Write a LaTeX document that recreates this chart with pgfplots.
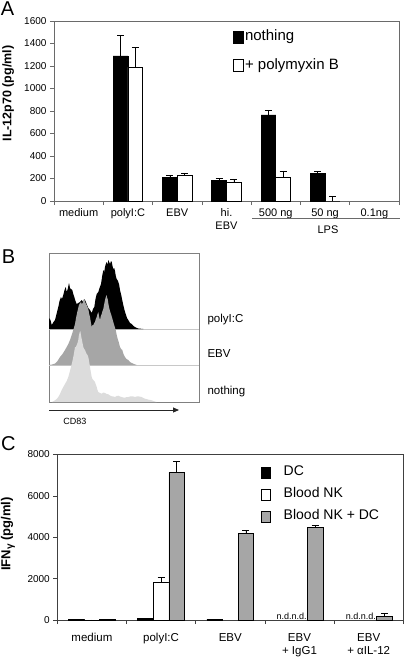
\documentclass[border=0pt]{standalone}
\usepackage{fontspec}
\setmainfont{Liberation Sans}
\setsansfont{Liberation Sans}
\usepackage{pgfplots}
\pgfplotsset{compat=1.18}
\usetikzlibrary{arrows.meta}
\definecolor{axA}{HTML}{6A6A6A}
\definecolor{axC}{HTML}{404040}
\definecolor{ebvgray}{HTML}{A6A6A6}
\definecolor{nothgray}{HTML}{DCDCDC}
\definecolor{sepgray}{HTML}{C8C8C8}
\newcommand{\fsz}[2]{\fontsize{#1bp}{#2bp}\selectfont}
\pgfplotsset{
  boxlegendA/.style={legend image code/.code={\draw[##1,line width=0.6bp] (0bp,-6bp) rectangle (9.5bp,6bp); \path[draw=none,fill=none] (0bp,0bp) -- (11bp,0bp);}},
  boxlegendC/.style={legend image code/.code={\draw[##1,line width=0.6bp] (0bp,-5.5bp) rectangle (9.5bp,5.5bp); \path[draw=none,fill=none] (0bp,0bp) -- (22bp,0bp);}},
}
\begin{document}
\begin{tikzpicture}
\path[use as bounding box] (0,0) rectangle (405bp,-658bp);

% ---------------- Panel A ----------------
\begin{axis}[
  at={(54bp,-201bp)}, anchor=south west,
  scale only axis, width=345bp, height=180bp,
  xmin=0, xmax=7, ymin=0, ymax=1600,
  ytick={0,200,...,1600},
  xtick={0,...,7}, xticklabels={},
  extra x ticks={0.5,1.5,...,6.5},
  extra x tick labels={medium, polyI:C, EBV, {hi.\\EBV}, 500 ng, 50 ng, 0.1ng},
  extra x tick style={major tick length=0pt},
  tick align=outside, xtick pos=bottom, ytick pos=left,
  major tick length=4bp,
  tick style={axA, line width=0.6bp},
  axis line style={axA, line width=0.7bp},
  xticklabel style={font=\fsz{11}{13}, align=center, text depth=0pt, yshift=-4.5bp},
  yticklabel style={font=\fsz{10}{12}},
  /pgf/number format/assume math mode=true,
  /pgf/number format/1000 sep={},
  ylabel={\bfseries IL-12p70 (pg/ml)},
  ylabel style={font=\fsz{12.5}{14}, at={(axis description cs:-0.1325,0.597)}, anchor=center},
  legend style={at={(axis description cs:0.519,0.955)}, anchor=north west, draw=none, fill=none,
    inner sep=0pt, font=\fsz{15}{17}, row sep=13bp, nodes={inner sep=0.5bp, text height=11bp, text depth=3.5bp}},
  legend cell align=left,
  clip=false,
]
\addplot[ybar, bar width=0.3, bar shift=0, fill=black, draw=black, line width=0.6bp, boxlegendA,
  error bars/.cd, y dir=plus, y explicit,
    error bar style={black, line width=0.6bp},
    error mark options={rotate=90, mark size=3.5bp, black, line width=0.6bp}]
  coordinates {(1.35,1290) +- (0,182) (2.35,210) +- (0,21) (3.35,180) +- (0,20) (4.35,765) +- (0,40) (5.35,243) +- (0,17)};
\addlegendentry{nothing}
\addplot[ybar, bar width=0.3, bar shift=0, fill=white, draw=black, line width=0.6bp, boxlegendA,
  error bars/.cd, y dir=plus, y explicit,
    error bar style={black, line width=0.6bp},
    error mark options={rotate=90, mark size=3.5bp, black, line width=0.6bp}]
  coordinates {(1.65,1190) +- (0,175) (2.65,225) +- (0,25) (3.65,163) +- (0,33) (4.65,213) +- (0,55) (5.65,0) +- (0,38)};
\addlegendentry{+ polymyxin B}
\end{axis}
\draw[axA, line width=0.7bp] (252bp,-218bp) -- (400bp,-218bp);
\node[font=\fsz{11}{13}] at (328bp,-229.5bp) {LPS};
\node[font=\fsz{20}{22}] at (7.5bp,-9bp) {A};

% ---------------- Panel B ----------------
\begin{axis}[
  at={(49bp,-402bp)}, anchor=south west,
  scale only axis, width=150bp, height=149bp,
  xmin=0, xmax=150, ymin=0, ymax=149,
  ticks=none,
  axis line style={gray, line width=0.7bp},
]
\addplot[sepgray, line width=0.6bp] coordinates {(0,73) (150,73)};
\addplot[sepgray, line width=0.6bp] coordinates {(0,37) (150,37)};
\addplot[fill=black, draw=none] coordinates {
(0,73) (0,84) (1.5,82) (2.7,77) (4.5,80) (6,82) (7.5,88) (9.3,95) (10.5,101) (12,105) (13,103) (14.3,107)
(15.5,112) (16.7,115) (17.7,110) (18.7,113) (20,119) (21,114) (22,113) (23.3,112) (24.3,108) (25.3,105)
(26.5,101) (27.7,98) (29.3,99) (31,100) (32.7,102) (34,100) (35.3,103) (36.5,101) (37.7,98) (39.3,94)
(41,92) (42.7,89) (44,93) (45.3,95) (46.5,103) (47.7,108) (49.3,110) (50.5,114) (52,118) (53.2,126)
(54.3,132) (55.2,130) (56,135) (56.8,138) (57.7,140) (58.5,137) (59.3,142) (60.2,140) (61,138) (62,141)
(62.7,140) (63.5,136) (64.3,133) (65.2,134) (66,131) (66.8,126) (67.7,123) (69,121) (70,118) (71,112)
(72,108) (73.2,102) (74.3,97) (75.5,92) (76.7,88) (78,84) (79.3,82) (81,79) (82.7,78) (84.5,76)
(86,75) (88,74) (89.3,73.5) (94.3,73) };
\addplot[fill=ebvgray, draw=none] coordinates {
(0,37) (3,37.5) (6,38.5) (8.5,41) (11,45) (13.5,48) (16,52) (17.7,55) (19.3,58) (21,62) (22.7,67)
(24.3,72) (26,78) (27.2,85) (28.3,90) (29.2,94) (30,97) (31,99) (32,100) (32.8,98) (33.7,99)
(34.5,102) (35.3,103) (36.5,99) (37.7,97) (38.5,95) (39.3,93) (40.2,88) (41,85) (41.8,80) (42.7,75)
(43.5,77) (44.3,77) (45.2,79) (46,80) (46.8,83) (47.7,85) (48.5,88) (49.3,90) (50.2,85) (51,82)
(51.8,86) (52.7,88) (53.5,91) (54.3,93) (55.2,98) (56,102) (56.8,105) (57.7,107) (58.2,104) (58.7,103)
(59.4,98) (60,95) (61,91) (62,88) (63.2,84) (64.3,80) (65.5,76) (66.7,72) (67.7,67) (68.7,63)
(70,59) (71,55) (72.2,53) (73.3,52) (74.5,48) (76,45) (77.5,43) (79.3,42) (81,40) (82.7,39)
(85,38) (87.7,37) };
\addplot[fill=nothgray, draw=none] coordinates {
(3,0) (6,1.7) (7.7,3) (9.3,5) (11,8) (12.7,12) (14.3,15) (16,18) (17.7,21) (19.3,25) (20.7,30)
(22,35) (23.2,40) (24.3,45) (25.2,50) (26,55) (26.8,55) (27.7,57) (28.5,59) (29.3,62) (29.8,66)
(30.3,68) (30.8,70) (31.3,71) (31.8,68) (32.3,65) (33.3,60) (34.3,55) (35.2,53) (36,52) (36.8,50)
(37.7,48) (38.5,47) (39.3,45) (40.2,40) (41,35) (41.8,30) (42.7,25) (43.5,23) (44.3,22) (45.2,21)
(46,20) (47,17) (47.7,15) (48.5,12) (49.3,10) (51,9) (52.7,8.3) (54.3,9.5) (56,9) (57.7,8)
(59.3,7.7) (61,6.5) (62.7,5.7) (64.3,5.5) (66,5) (67.7,6) (69.3,6.3) (71,5.5) (72.7,5) (74.3,4.5)
(76,4.3) (77.7,5) (79.3,5) (81,5.5) (82.7,5.7) (84.3,5.5) (86,5) (87.7,5.5) (89.3,5.7) (91,5.3)
(92.7,5) (94.3,4) (96,3.3) (99,2.5) (102.7,1.7) (105,0.8) (107.7,0) };
\end{axis}
\node[font=\fsz{11.5}{13}, anchor=west] at (204bp,-320bp) {polyI:C};
\node[font=\fsz{11.5}{13}, anchor=west] at (204bp,-354bp) {EBV};
\node[font=\fsz{11.5}{13}, anchor=west] at (204bp,-392bp) {nothing};
\draw[black!85, line width=0.9bp, -{Triangle[length=6bp,width=5bp]}] (49bp,-410bp) -- (179bp,-410bp);
\node[font=\fsz{9}{11}] at (75bp,-421bp) {CD83};
\node[font=\fsz{20}{22}] at (8.5bp,-257bp) {B};

% ---------------- Panel C ----------------
\begin{axis}[
  at={(57.3bp,-620bp)}, anchor=south west,
  scale only axis, width=346bp, height=165.5bp,
  xmin=0, xmax=5, ymin=0, ymax=8000,
  ytick={0,2000,...,8000},
  xtick={0,...,5}, xticklabels={},
  extra x ticks={0.5,1.5,...,4.5},
  extra x tick labels={medium, polyI:C, EBV, {EBV\\+ IgG1}, {EBV\\+ αIL-12}},
  extra x tick style={major tick length=0pt},
  tick align=outside, xtick pos=bottom, ytick pos=left,
  major tick length=4bp,
  tick style={axC, line width=0.6bp},
  axis line style={axC, line width=0.7bp},
  xticklabel style={font=\fsz{11.5}{13}, align=center, text depth=0pt, yshift=-10bp},
  yticklabel style={font=\fsz{10}{12}},
  /pgf/number format/assume math mode=true,
  /pgf/number format/1000 sep={},
  ylabel={\bfseries IFN\raisebox{-0.35ex}{\fsz{10}{12}γ} (pg/ml)},
  ylabel style={font=\fsz{13}{15}, at={(axis description cs:-0.1425,0.52)}, anchor=center},
  legend style={at={(axis description cs:0.588,0.935)}, anchor=north west, draw=none, fill=none,
    inner sep=0pt, font=\fsz{14}{16}, row sep=8bp, nodes={inner sep=0.5bp, text height=10bp, text depth=3bp}},
  legend cell align=left,
  clip=false,
]
\addplot[ybar, bar width=0.225, bar shift=0, fill=black, draw=black, line width=0.6bp, boxlegendC]
  coordinates {(0.275,15) (1.275,70) (2.275,30)};
\addlegendentry{DC}
\addplot[ybar, bar width=0.225, bar shift=0, fill=white, draw=black, line width=0.6bp, boxlegendC,
  error bars/.cd, y dir=plus, y explicit,
    error bar style={black, line width=0.6bp},
    error mark options={rotate=90, mark size=3.5bp, black, line width=0.6bp}]
  coordinates {(0.5,10) +- (0,0) (1.5,1840) +- (0,210)};
\addlegendentry{Blood NK}
\addplot[ybar, bar width=0.225, bar shift=0, fill=ebvgray, draw=black, line width=0.6bp, boxlegendC,
  error bars/.cd, y dir=plus, y explicit,
    error bar style={black, line width=0.6bp},
    error mark options={rotate=90, mark size=3.5bp, black, line width=0.6bp}]
  coordinates {(0.725,25) +- (0,0) (1.725,7140) +- (0,540) (2.725,4190) +- (0,130) (3.725,4480) +- (0,112) (4.725,160) +- (0,165)};
\addlegendentry{Blood NK + DC}
\node[font=\fsz{9}{10}, anchor=south east, inner sep=0.5bp] at (axis cs:3.6125,0) {n.d.n.d.};
\node[font=\fsz{9}{10}, anchor=south east, inner sep=0.5bp] at (axis cs:4.6125,0) {n.d.n.d.};
\end{axis}
\node[font=\fsz{20}{22}] at (8.3bp,-444bp) {C};
\end{tikzpicture}
\end{document}
